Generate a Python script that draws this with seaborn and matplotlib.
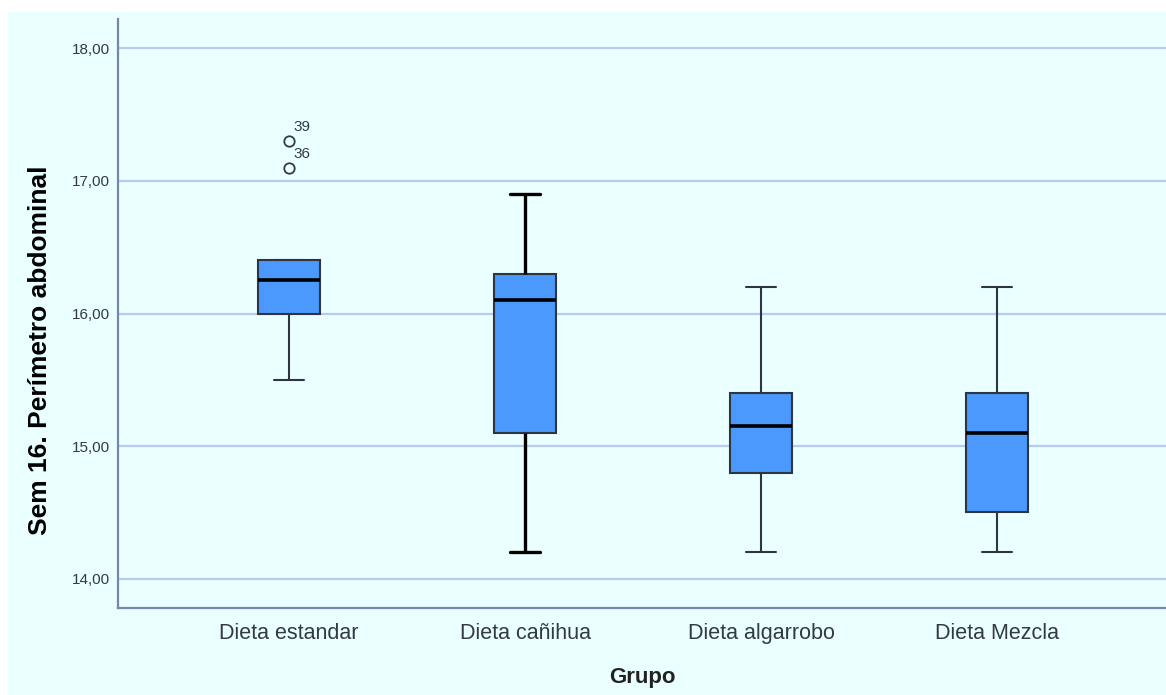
import pandas as pd
import seaborn as sns
import matplotlib.pyplot as plt
from matplotlib.patches import Rectangle

# Observations per group (read back from the box summaries in the chart)
groups = ['Dieta estandar', 'Dieta cañihua', 'Dieta algarrobo', 'Dieta Mezcla']
estandar = [15.5, 15.8, 16.0, 16.1, 16.25, 16.3, 16.4, 17.1, 17.3]
canihua = [14.2, 14.8, 15.1, 15.6, 16.1, 16.2, 16.3, 16.6, 16.9]
algarrobo = [14.2, 14.5, 14.8, 15.0, 15.15, 15.3, 15.4, 15.8, 16.2]
mezcla = [14.2, 14.4, 14.5, 14.8, 15.1, 15.3, 15.4, 15.8, 16.2]

# case ids of the two outliers in the first group
outlier_vals = [17.3, 17.1]
outlier_ids = ['39', '36']

yticks = [14, 15, 16, 17, 18]
ytick_labels = ['14,00', '15,00', '16,00', '17,00', '18,00']

df = pd.DataFrame({
    'Grupo': [groups[0]] * len(estandar) + [groups[1]] * len(canihua)
             + [groups[2]] * len(algarrobo) + [groups[3]] * len(mezcla),
    'valor': estandar + canihua + algarrobo + mezcla,
})

sns.set_style('white')
plt.rcParams['font.family'] = ['Liberation Sans', 'DejaVu Sans']

fig = plt.figure(figsize=(11.66, 6.95), dpi=100, facecolor='white')
# light cyan panel behind everything (SPSS chart frame)
fig.patches.append(Rectangle((8 / 1166, 0), 1 - 8 / 1166, 1 - 12 / 695,
                             transform=fig.transFigure, facecolor='#EAFFFF',
                             edgecolor='none', zorder=-10))
ax = fig.add_axes([118 / 1166, 1 - 608 / 695, 1 - 118 / 1166, (608 - 19) / 695])
ax.set_facecolor('#EAFFFF')

grid_col = '#B8C9F2'
for t in yticks:
    ax.axhline(t, color=grid_col, lw=1.6, zorder=0)

sns.boxplot(data=df, x='Grupo', y='valor', order=groups, ax=ax,
            color='#4B99FC', saturation=1, width=0.26, linewidth=1.5,
            linecolor='#2E3440',
            medianprops=dict(color='black', lw=2.6),
            flierprops=dict(marker='o', markersize=7.5, markerfacecolor='none',
                            markeredgecolor='#333a44', markeredgewidth=1.3),
            zorder=3)

# cañihua whiskers drawn heavier in the original
for ln in ax.lines:
    xd = ln.get_xdata()
    if len(xd) and all(0.7 < v < 1.3 for v in xd):
        if ln.get_color() != 'black':
            ln.set_color('black')
            ln.set_linewidth(2.4)

# outlier case labels
for v, lab in zip(outlier_vals, outlier_ids):
    ax.annotate(lab, xy=(0, v), xytext=(3.5, 5), textcoords='offset points',
                fontsize=11, color='#333a44', ha='left', va='bottom')

ax.set_ylim(13.78, 18.22)
ax.set_xlim(-0.725, 3.716)
ax.set_yticks(yticks)
ax.set_yticklabels(ytick_labels, fontsize=11, color='#333a44')
ax.tick_params(axis='x', labelsize=15.5, length=0, pad=11)
ax.tick_params(axis='y', length=0, pad=6)
for lab in ax.get_xticklabels():
    lab.set_color('#333a44')

ax.set_xlabel('Grupo', fontsize=16, fontweight='bold', color='#222')
ax.set_ylabel('Sem 16. Perímetro abdominal', fontsize=19, fontweight='bold',
              color='black')
ax.xaxis.set_label_coords(0.5, -0.1)
ax.yaxis.set_label_coords(-0.063, 0.437)

for s in ['top', 'right']:
    ax.spines[s].set_visible(False)
for s in ['left', 'bottom']:
    ax.spines[s].set_color('#7A86A8')
    ax.spines[s].set_linewidth(1.6)

fig.savefig('out.png', dpi=100, facecolor='white')
